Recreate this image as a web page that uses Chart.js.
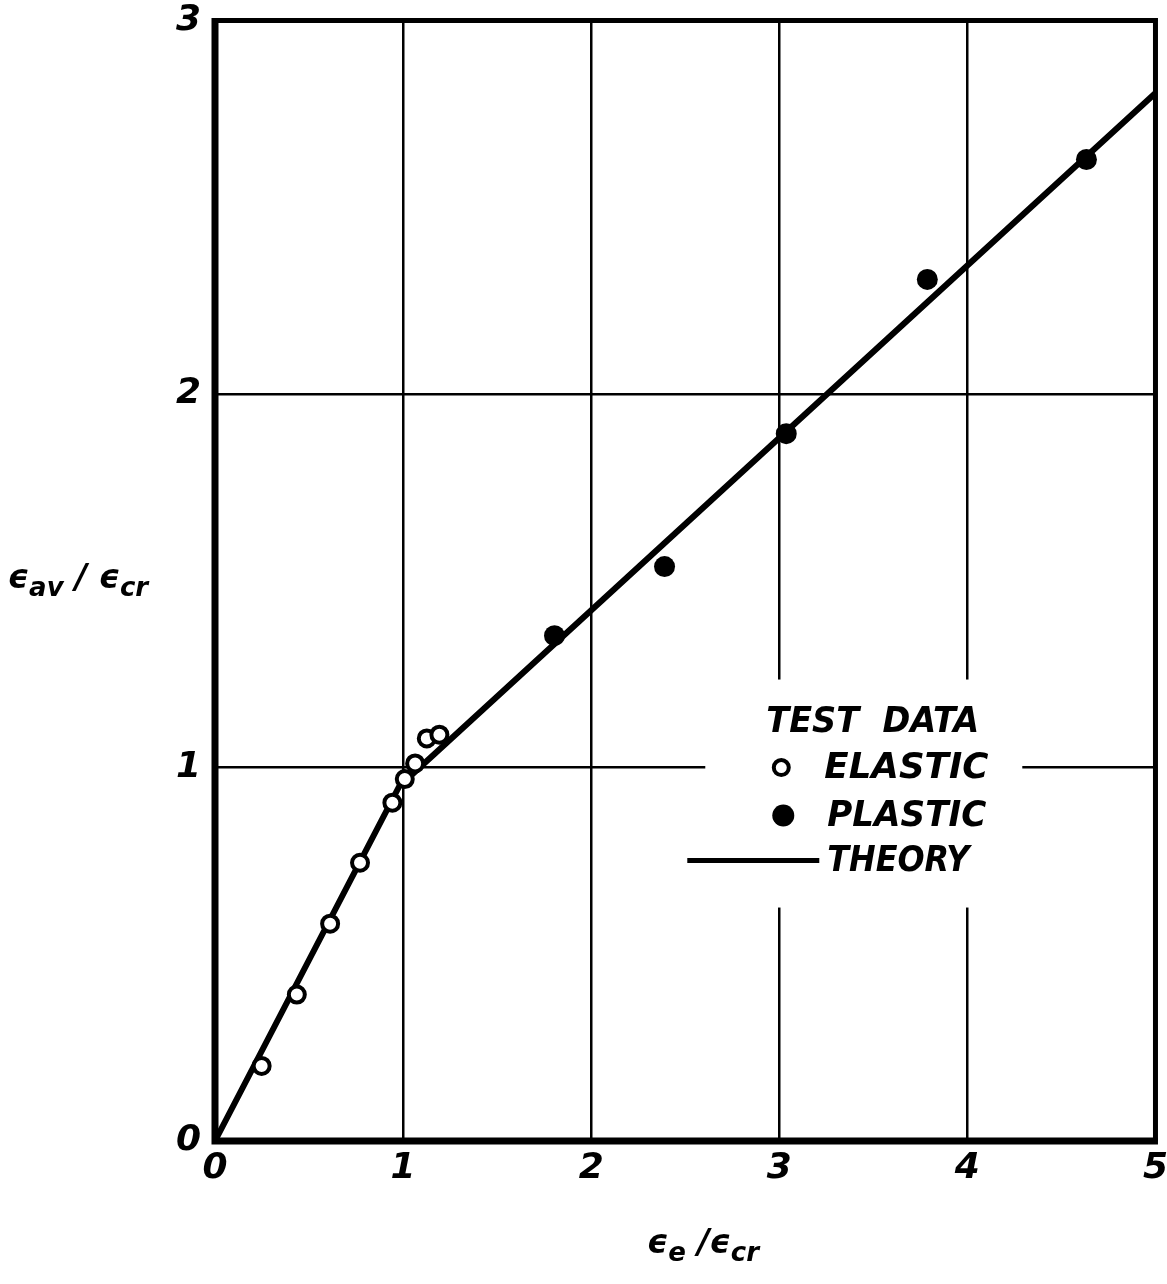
<!DOCTYPE html>
<html>
<head>
<meta charset="utf-8">
<script src="https://cdn.jsdelivr.net/npm/chart.js@4/dist/chart.umd.min.js"></script>
<style>
  html,body{margin:0;padding:0;background:#fff;overflow:hidden;}
  #wrap{width:1174px;height:1299px;margin-top:-15px;position:relative;}
</style>
</head>
<body>
<div id="wrap"><canvas id="chart"></canvas></div>
<script>
// values
const elasticX = [0.248, 0.435, 0.612, 0.771, 0.943, 1.009, 1.064, 1.126, 1.193];
const elasticY = [0.201, 0.392, 0.582, 0.745, 0.906, 0.969, 1.011, 1.078, 1.088];
const plasticX = [1.805, 2.390, 3.037, 3.787, 4.633];
const plasticY = [1.353, 1.538, 1.894, 2.307, 2.628];
const theoryX = [0, 0.98, 5];
const theoryY = [0, 0.95, 2.806];
const xTicks = [0, 1, 2, 3, 4, 5];
const yTicks = [0, 1, 2, 3];
const legendItems = ['TEST  DATA', 'ELASTIC', 'PLASTIC', 'THEORY'];

const FONT = '"DejaVu Sans", sans-serif';
const pts = (xs, ys) => xs.map((x, i) => ({x, y: ys[i]}));

// italic text with subscripts: parts = [[text, isSub], ...]
function subText(ctx, parts, cx, baseY, big, small){
  let w = 0;
  parts.forEach(p => { ctx.font = `bold italic ${p[1] ? small : big}px ${FONT}`; w += ctx.measureText(p[0]).width; });
  let x = cx - w/2;
  ctx.textAlign = 'left'; ctx.textBaseline = 'alphabetic';
  parts.forEach(p => {
    ctx.font = `bold italic ${p[1] ? small : big}px ${FONT}`;
    ctx.fillText(p[0], x, baseY + (p[1] ? 8 : 0));
    x += ctx.measureText(p[0]).width;
  });
}

const decor = {
  id: 'decor',
  beforeDatasetsDraw(chart){
    const {ctx, chartArea: a, scales} = chart;
    ctx.save();
    // frame
    ctx.strokeStyle = '#000';
    ctx.lineWidth = 5;
    ctx.beginPath();
    ctx.moveTo(a.left, a.top); ctx.lineTo(a.right, a.top); ctx.lineTo(a.right, a.bottom);
    ctx.stroke();
    ctx.lineWidth = 7;
    ctx.beginPath();
    ctx.moveTo(a.left, a.top - 2.5); ctx.lineTo(a.left, a.bottom); ctx.lineTo(a.right + 2.5, a.bottom);
    ctx.stroke();

    // legend, white box masks the grid
    const x3 = scales.x.getPixelForValue(3);
    const y1 = scales.y.getPixelForValue(1);
    const bx = x3 - 74, by = y1 - 88;
    ctx.fillStyle = '#fff';
    ctx.fillRect(bx, by, 317, 228);
    ctx.fillStyle = '#000';
    ctx.textBaseline = 'middle';
    ctx.textAlign = 'left';
    ctx.font = `bold italic 36px ${FONT}`;
    ctx.fillText(legendItems[0], x3 - 13, y1 - 45, 213);
    ctx.fillText(legendItems[1], x3 + 45, y1 + 1, 164);
    ctx.fillText(legendItems[2], x3 + 48, y1 + 49, 159);
    ctx.fillText(legendItems[3], x3 + 48, y1 + 94, 142);
    // symbols
    ctx.lineWidth = 4;
    ctx.beginPath(); ctx.arc(x3 + 2, y1, 7.5, 0, Math.PI*2); ctx.fillStyle = '#fff'; ctx.fill(); ctx.stroke();
    ctx.fillStyle = '#000';
    ctx.beginPath(); ctx.arc(x3 + 4, y1 + 48, 11, 0, Math.PI*2); ctx.fill();
    ctx.lineWidth = 5;
    ctx.beginPath(); ctx.moveTo(x3 - 92, y1 + 93); ctx.lineTo(x3 + 40, y1 + 93); ctx.stroke();

    // axis titles (canvas is shifted up by 15px)
    subText(ctx, [['\u03F5', false], ['av', true], [' / ', false], ['\u03F5', false], ['cr', true]], 78, 603, 33, 26);
    subText(ctx, [['\u03F5', false], ['e', true], [' /', false], ['\u03F5', false], ['cr', true]], 703, 1268, 33, 26);
    ctx.restore();
  }
};

new Chart(document.getElementById('chart'), {
  type: 'scatter',
  data: {
    datasets: [
      {label: 'THEORY', data: pts(theoryX, theoryY), showLine: true, borderColor: '#000', borderWidth: 6, pointRadius: 0, order: 3},
      {label: 'ELASTIC', data: pts(elasticX, elasticY), pointRadius: 8, pointBorderWidth: 4, pointBackgroundColor: '#fff', pointBorderColor: '#000', order: 2},
      {label: 'PLASTIC', data: pts(plasticX, plasticY), pointRadius: 10.5, pointBorderWidth: 0, pointBackgroundColor: '#000', pointBorderColor: '#000', order: 1}
    ]
  },
  plugins: [decor],
  options: {
    responsive: true,
    maintainAspectRatio: false,
    animation: false,
    layout: {padding: {top: 2, right: 0, left: 0, bottom: 0}},
    plugins: {legend: {display: false}, tooltip: {enabled: false}},
    scales: {
      x: {
        type: 'linear', min: 0, max: 5,
        afterBuildTicks: s => { s.ticks = xTicks.map(v => ({value: v})); },
        afterFit: s => { s.height = 143; },
        grid: {color: '#000', lineWidth: 2.5, drawTicks: false},
        border: {display: false},
        ticks: {color: '#000', padding: 6, font: {family: FONT, size: 36, style: 'italic', weight: 'bold'}}
      },
      y: {
        type: 'linear', min: 0, max: 3,
        afterBuildTicks: s => { s.ticks = yTicks.map(v => ({value: v})); },
        afterFit: s => { s.width = 215; },
        grid: {color: '#000', lineWidth: 2.5, drawTicks: false},
        border: {display: false},
        ticks: {color: '#000', padding: 14, font: {family: FONT, size: 36, style: 'italic', weight: 'bold'}}
      }
    }
  }
});
</script>
</body>
</html>
